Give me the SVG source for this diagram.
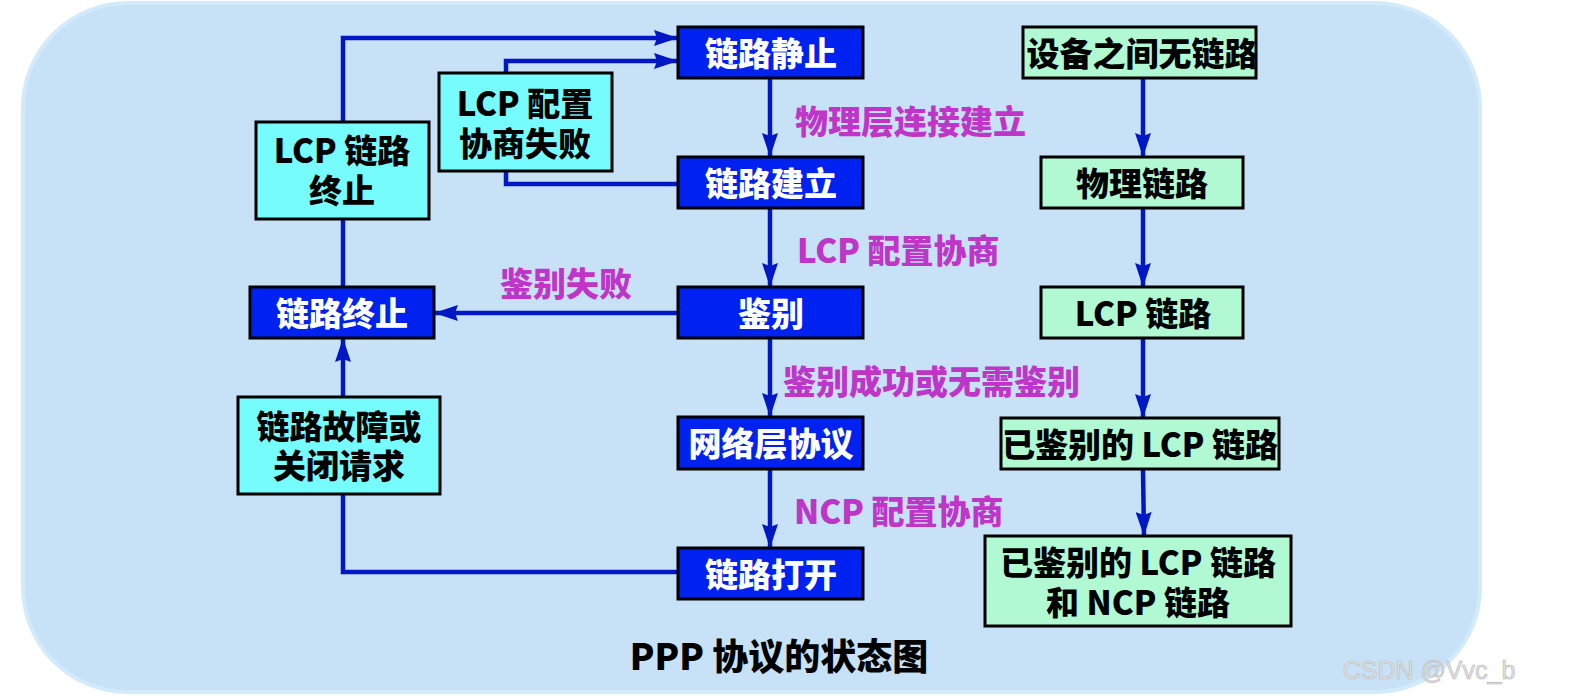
<svg xmlns="http://www.w3.org/2000/svg" width="1570" height="698" viewBox="0 0 1570 698">
<defs>
<style>
.nb{fill:#0022F0;stroke:#000;stroke-width:3}
.nc{fill:#76FCFC;stroke:#000;stroke-width:3}
.ng{fill:#B0F9D2;stroke:#000;stroke-width:3}
text{font-family:"Noto Sans CJK SC",sans-serif;font-weight:900;font-size:33px;text-anchor:middle;dominant-baseline:central}
.tw{fill:#fff}
.tk{fill:#000}
.lb{fill:#BF35C8;text-anchor:start}
.ln{fill:none;stroke:#0018C4;stroke-width:4.5}
</style>
<marker id="ah" markerUnits="userSpaceOnUse" markerWidth="24" markerHeight="16" refX="24" refY="8" orient="auto">
<path d="M0,0 L24,8 L0,16 L3,8 z" fill="#0018C4"/>
</marker>
</defs>
<rect x="23" y="3" width="1457" height="689" rx="105" ry="105" fill="#C7E1F6" stroke="#D3EAFB" stroke-width="4"/>

<g id="connectors">
<path class="ln" d="M770,78 V157" marker-end="url(#ah)"/>
<path class="ln" d="M770,208 V287" marker-end="url(#ah)"/>
<path class="ln" d="M770,338 V417" marker-end="url(#ah)"/>
<path class="ln" d="M770,469 V548" marker-end="url(#ah)"/>
<path class="ln" d="M678,313 H434" marker-end="url(#ah)"/>
<path class="ln" d="M678,572 H343 V494"/>
<path class="ln" d="M343,397 V338" marker-end="url(#ah)"/>
<path class="ln" d="M343,287 V219"/>
<path class="ln" d="M343,122 V38 H678" marker-end="url(#ah)"/>
<path class="ln" d="M678,184 H506 V171"/>
<path class="ln" d="M506,73 V61 H678" marker-end="url(#ah)"/>
<path class="ln" d="M1143,78 V157" marker-end="url(#ah)"/>
<path class="ln" d="M1143,208 V287" marker-end="url(#ah)"/>
<path class="ln" d="M1143,338 V418" marker-end="url(#ah)"/>
<path class="ln" d="M1143,469 L1144,536" marker-end="url(#ah)"/>
</g>

<g id="n-quiet"><rect class="nb" x="678" y="27" width="185" height="51"/><text class="tw" x="771" y="52">链路静止</text></g>
<g id="n-establish"><rect class="nb" x="678" y="157" width="185" height="51"/><text class="tw" x="771" y="182">链路建立</text></g>
<g id="n-auth"><rect class="nb" x="678" y="287" width="185" height="51"/><text class="tw" x="771" y="312">鉴别</text></g>
<g id="n-network"><rect class="nb" x="678" y="417" width="185" height="52"/><text class="tw" x="771" y="442">网络层协议</text></g>
<g id="n-open"><rect class="nb" x="678" y="548" width="185" height="51"/><text class="tw" x="771" y="573">链路打开</text></g>
<g id="n-terminate"><rect class="nb" x="250" y="287" width="184" height="51"/><text class="tw" x="342" y="312">链路终止</text></g>

<g id="n-lcpterm"><rect class="nc" x="256" y="122" width="173" height="97"/><text class="tk" x="342" y="149">LCP 链路<tspan x="342" dy="40">终止</tspan></text></g>
<g id="n-lcpfail"><rect class="nc" x="439" y="73" width="173" height="98"/><text class="tk" x="525" y="102">LCP 配置<tspan x="525" dy="40">协商失败</tspan></text></g>
<g id="n-fault"><rect class="nc" x="238" y="397" width="202" height="97"/><text class="tk" x="339" y="425">链路故障或<tspan x="339" dy="39">关闭请求</tspan></text></g>

<g id="g-nolink"><rect class="ng" x="1023" y="27" width="233" height="51"/><text class="tk" x="1142" y="52">设备之间无链路</text></g>
<g id="g-phys"><rect class="ng" x="1041" y="157" width="202" height="51"/><text class="tk" x="1142" y="182">物理链路</text></g>
<g id="g-lcp"><rect class="ng" x="1041" y="287" width="202" height="51"/><text class="tk" x="1143" y="312">LCP 链路</text></g>
<g id="g-authlcp"><rect class="ng" x="1001" y="418" width="278" height="51"/><text class="tk" x="1140" y="443">已鉴别的 LCP 链路</text></g>
<g id="g-authncp"><rect class="ng" x="985" y="536" width="306" height="90"/><text class="tk" x="1138" y="561">已鉴别的 LCP 链路<tspan x="1138" dy="40">和 NCP 链路</tspan></text></g>

<g id="labels">
<text class="lb" x="795" y="120">物理层连接建立</text>
<text class="lb" x="797" y="249">LCP 配置协商</text>
<text class="lb" x="500" y="282">鉴别失败</text>
<text class="lb" x="783" y="380">鉴别成功或无需鉴别</text>
<text class="lb" x="794" y="510">NCP 配置协商</text>
</g>
<text class="tk" x="779" y="654" style="font-size:36px">PPP 协议的状态图</text>
<text x="1429" y="670" style="font-family:'Liberation Sans',sans-serif;font-weight:normal;font-size:25px;fill:#E2E2E2;stroke:#B8B8B8;stroke-width:0.6">CSDN @Vvc_b</text>
</svg>
